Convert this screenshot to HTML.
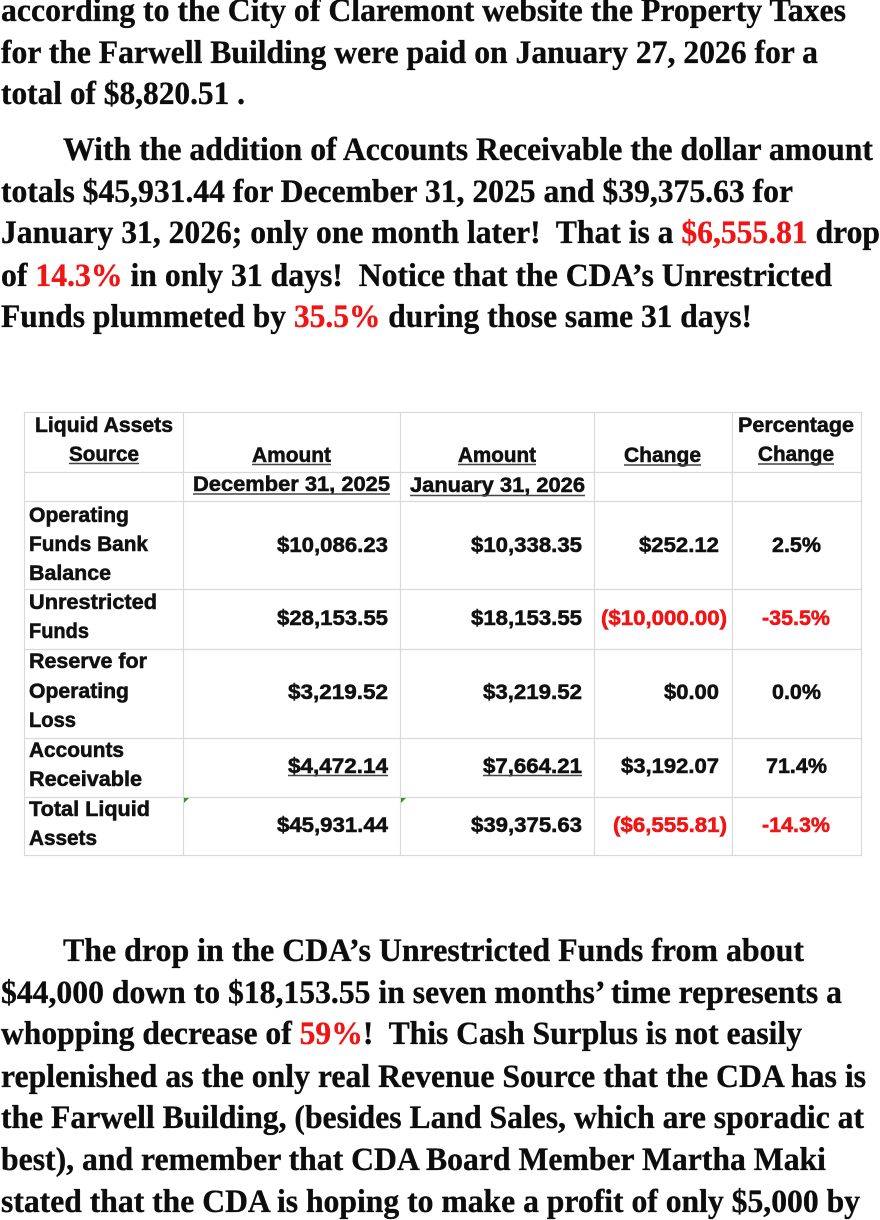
<!DOCTYPE html>
<html>
<head>
<meta charset="utf-8">
<style>
  html,body{margin:0;padding:0;background:#fff;}
  body{width:880px;height:1220px;overflow:hidden;}
  svg{display:block;}
  .t{font-family:"Liberation Serif","Times New Roman",serif;font-weight:bold;font-size:33px;fill:#0d0d0d;stroke:#0d0d0d;stroke-width:0.35;white-space:pre;}
  .r{fill:#f01414;stroke:#f01414;}
  .a{font-family:"Liberation Sans",Arial,sans-serif;font-weight:bold;font-size:21px;fill:#111;stroke:#111;stroke-width:0.55;white-space:pre;}
  .ar{fill:#f01414;stroke:#f01414;}
  .g{stroke:#d9d9d9;stroke-width:1.2;fill:none;}
  .u{stroke:#444;stroke-width:1.6;}
</style>
</head>
<body>
<svg width="880" height="1220" viewBox="0 0 880 1220" xmlns="http://www.w3.org/2000/svg">
  <!-- Top paragraphs -->
  <text class="t" x="1" y="21" textLength="845" lengthAdjust="spacingAndGlyphs">according to the City of Claremont website the Property Taxes</text>
  <text class="t" x="1" y="63" textLength="817" lengthAdjust="spacingAndGlyphs">for the Farwell Building were paid on January 27, 2026 for a</text>
  <text class="t" x="1" y="104" textLength="244" lengthAdjust="spacingAndGlyphs">total of $8,820.51 .</text>

  <text class="t" x="63" y="160" textLength="810" lengthAdjust="spacingAndGlyphs">With the addition of Accounts Receivable the dollar amount</text>
  <text class="t" x="1" y="202" textLength="792" lengthAdjust="spacingAndGlyphs">totals $45,931.44 for December 31, 2025 and $39,375.63 for</text>
  <text class="t" x="1" y="243" textLength="879" lengthAdjust="spacingAndGlyphs">January 31, 2026; only one month later!  That is a <tspan class="r">$6,555.81</tspan> drop</text>
  <text class="t" x="1" y="286" textLength="831" lengthAdjust="spacingAndGlyphs">of <tspan class="r">14.3%</tspan> in only 31 days!  Notice that the CDA’s Unrestricted</text>
  <text class="t" x="1" y="327" textLength="751" lengthAdjust="spacingAndGlyphs">Funds plummeted by <tspan class="r">35.5%</tspan> during those same 31 days!</text>

  <!-- Table grid -->
  <rect class="g" x="24.5" y="412.5" width="837" height="443"/>
  <line class="g" x1="183.5" y1="412" x2="183.5" y2="856"/>
  <line class="g" x1="400.5" y1="412" x2="400.5" y2="856"/>
  <line class="g" x1="594.5" y1="412" x2="594.5" y2="856"/>
  <line class="g" x1="732.5" y1="412" x2="732.5" y2="856"/>
  <line class="g" x1="24" y1="472.5" x2="862" y2="472.5"/>
  <line class="g" x1="24" y1="501.5" x2="862" y2="501.5"/>
  <line class="g" x1="24" y1="589.5" x2="862" y2="589.5"/>
  <line class="g" x1="24" y1="649.5" x2="862" y2="649.5"/>
  <line class="g" x1="24" y1="738.5" x2="862" y2="738.5"/>
  <line class="g" x1="24" y1="797.5" x2="862" y2="797.5"/>

  <!-- green comment marks -->
  <polygon points="184,798 189,798 184,803" fill="#2a9a2a"/>
  <polygon points="401,798 406,798 401,803" fill="#2a9a2a"/>

  <!-- Header -->
  <text class="a" x="35" y="432" textLength="138" lengthAdjust="spacingAndGlyphs">Liquid Assets</text>
  <text class="a" x="69" y="461" textLength="70" lengthAdjust="spacingAndGlyphs">Source</text>
  <line class="u" x1="69" y1="463.5" x2="139" y2="463.5"/>
  <text class="a" x="252" y="462" textLength="79" lengthAdjust="spacingAndGlyphs">Amount</text>
  <line class="u" x1="252" y1="464.5" x2="331" y2="464.5"/>
  <text class="a" x="458" y="462" textLength="78" lengthAdjust="spacingAndGlyphs">Amount</text>
  <line class="u" x1="458" y1="464.5" x2="536" y2="464.5"/>
  <text class="a" x="624" y="462" textLength="77" lengthAdjust="spacingAndGlyphs">Change</text>
  <line class="u" x1="624" y1="465" x2="701" y2="465"/>
  <text class="a" x="738" y="432" textLength="116" lengthAdjust="spacingAndGlyphs">Percentage</text>
  <text class="a" x="758" y="461" textLength="76" lengthAdjust="spacingAndGlyphs">Change</text>
  <line class="u" x1="758" y1="464" x2="834" y2="464"/>

  <text class="a" x="193" y="491" textLength="197" lengthAdjust="spacingAndGlyphs">December 31, 2025</text>
  <line class="u" x1="193" y1="494" x2="390" y2="494"/>
  <text class="a" x="410" y="492" textLength="175" lengthAdjust="spacingAndGlyphs">January 31, 2026</text>
  <line class="u" x1="410" y1="495.5" x2="585" y2="495.5"/>

  <!-- Row 1 -->
  <text class="a" x="29" y="522" textLength="100" lengthAdjust="spacingAndGlyphs">Operating</text>
  <text class="a" x="29" y="551" textLength="119" lengthAdjust="spacingAndGlyphs">Funds Bank</text>
  <text class="a" x="29" y="580" textLength="82" lengthAdjust="spacingAndGlyphs">Balance</text>
  <text class="a" x="277" y="552" textLength="111" lengthAdjust="spacingAndGlyphs">$10,086.23</text>
  <text class="a" x="471" y="552" textLength="111" lengthAdjust="spacingAndGlyphs">$10,338.35</text>
  <text class="a" x="639" y="552" textLength="80" lengthAdjust="spacingAndGlyphs">$252.12</text>
  <text class="a" x="772" y="552" textLength="49" lengthAdjust="spacingAndGlyphs">2.5%</text>

  <!-- Row 2 -->
  <text class="a" x="29" y="609" textLength="128" lengthAdjust="spacingAndGlyphs">Unrestricted</text>
  <text class="a" x="29" y="638" textLength="60" lengthAdjust="spacingAndGlyphs">Funds</text>
  <text class="a" x="277" y="625" textLength="111" lengthAdjust="spacingAndGlyphs">$28,153.55</text>
  <text class="a" x="471" y="625" textLength="111" lengthAdjust="spacingAndGlyphs">$18,153.55</text>
  <text class="a ar" x="601" y="625" textLength="126" lengthAdjust="spacingAndGlyphs">($10,000.00)</text>
  <text class="a ar" x="762" y="625" textLength="68" lengthAdjust="spacingAndGlyphs">-35.5%</text>

  <!-- Row 3 -->
  <text class="a" x="29" y="668" textLength="118" lengthAdjust="spacingAndGlyphs">Reserve for</text>
  <text class="a" x="29" y="698" textLength="100" lengthAdjust="spacingAndGlyphs">Operating</text>
  <text class="a" x="29" y="727" textLength="47" lengthAdjust="spacingAndGlyphs">Loss</text>
  <text class="a" x="288" y="699" textLength="100" lengthAdjust="spacingAndGlyphs">$3,219.52</text>
  <text class="a" x="483" y="699" textLength="99" lengthAdjust="spacingAndGlyphs">$3,219.52</text>
  <text class="a" x="664" y="699" textLength="55" lengthAdjust="spacingAndGlyphs">$0.00</text>
  <text class="a" x="772" y="699" textLength="49" lengthAdjust="spacingAndGlyphs">0.0%</text>

  <!-- Row 4 -->
  <text class="a" x="29" y="757" textLength="95" lengthAdjust="spacingAndGlyphs">Accounts</text>
  <text class="a" x="29" y="786" textLength="113" lengthAdjust="spacingAndGlyphs">Receivable</text>
  <text class="a" x="288" y="773" textLength="100" lengthAdjust="spacingAndGlyphs">$4,472.14</text>
  <line class="u" x1="288" y1="775.5" x2="388" y2="775.5"/>
  <text class="a" x="483" y="773" textLength="99" lengthAdjust="spacingAndGlyphs">$7,664.21</text>
  <line class="u" x1="483" y1="775.5" x2="582" y2="775.5"/>
  <text class="a" x="621" y="773" textLength="98" lengthAdjust="spacingAndGlyphs">$3,192.07</text>
  <text class="a" x="766" y="773" textLength="61" lengthAdjust="spacingAndGlyphs">71.4%</text>

  <!-- Row 5 -->
  <text class="a" x="29" y="816" textLength="121" lengthAdjust="spacingAndGlyphs">Total Liquid</text>
  <text class="a" x="29" y="845" textLength="68" lengthAdjust="spacingAndGlyphs">Assets</text>
  <text class="a" x="277" y="832" textLength="111" lengthAdjust="spacingAndGlyphs">$45,931.44</text>
  <text class="a" x="471" y="832" textLength="111" lengthAdjust="spacingAndGlyphs">$39,375.63</text>
  <text class="a ar" x="613" y="832" textLength="114" lengthAdjust="spacingAndGlyphs">($6,555.81)</text>
  <text class="a ar" x="762" y="832" textLength="68" lengthAdjust="spacingAndGlyphs">-14.3%</text>

  <!-- Bottom paragraph -->
  <text class="t" x="63" y="961" textLength="741" lengthAdjust="spacingAndGlyphs">The drop in the CDA’s Unrestricted Funds from about</text>
  <text class="t" x="1" y="1003" textLength="841" lengthAdjust="spacingAndGlyphs">$44,000 down to $18,153.55 in seven months’ time represents a</text>
  <text class="t" x="1" y="1044" textLength="801" lengthAdjust="spacingAndGlyphs">whopping decrease of <tspan class="r">59%</tspan>!  This Cash Surplus is not easily</text>
  <text class="t" x="1" y="1087" textLength="865" lengthAdjust="spacingAndGlyphs">replenished as the only real Revenue Source that the CDA has is</text>
  <text class="t" x="1" y="1128" textLength="863" lengthAdjust="spacingAndGlyphs">the Farwell Building, (besides Land Sales, which are sporadic at</text>
  <text class="t" x="1" y="1170" textLength="825" lengthAdjust="spacingAndGlyphs">best), and remember that CDA Board Member Martha Maki</text>
  <text class="t" x="1" y="1212" textLength="859" lengthAdjust="spacingAndGlyphs">stated that the CDA is hoping to make a profit of only $5,000 by</text>
</svg>
</body>
</html>
